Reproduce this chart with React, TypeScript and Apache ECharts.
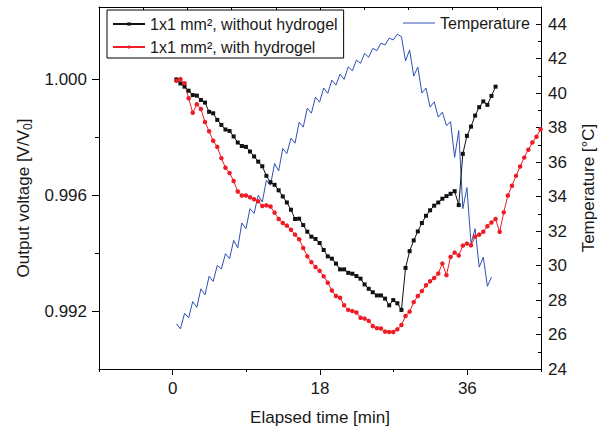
import React, { useEffect, useRef } from "react";
import * as echarts from "echarts";

const FONT = '"Liberation Sans", Arial, Helvetica, sans-serif';

// sampling grid of the measurements (minutes)
const timeStart = 0.45;
const timeStep = 0.5;

const seriesNames = ["1x1 mm², without hydrogel", "1x1 mm², with hydrogel", "Temperature"];

// Output voltage [V/V0], 1x1 mm², without hydrogel
const withoutHydrogel = [
  1.0, 0.99986, 0.99975, 0.99961, 0.99946, 0.99944, 0.99929, 0.9992, 0.99888, 0.99883,
  0.9986, 0.99843, 0.99827, 0.99822, 0.99803, 0.99782, 0.9977, 0.99767, 0.99751, 0.99734,
  0.99716, 0.997, 0.99667, 0.99645, 0.99636, 0.99617, 0.99596, 0.99575, 0.9955, 0.99518,
  0.99519, 0.99497, 0.99474, 0.99457, 0.99449, 0.99435, 0.99411, 0.99389, 0.99381, 0.99364,
  0.99344, 0.99344, 0.99332, 0.99329, 0.99321, 0.99312, 0.99292, 0.99277, 0.99265, 0.99254,
  0.99254, 0.99243, 0.9922, 0.99238, 0.99227, 0.99204, 0.99349, 0.99407, 0.99444, 0.99475,
  0.99504, 0.99529, 0.99548, 0.99564, 0.99575, 0.99588, 0.99597, 0.99605, 0.99614, 0.99566,
  0.99743, 0.99805, 0.99837, 0.99875, 0.99904, 0.99924, 0.99912, 0.99943, 0.99975,
];

// Output voltage [V/V0], 1x1 mm², with hydrogel
const withHydrogel = [
  0.99995, 1.00001, 0.99987, 0.99935, 0.99885, 0.99914, 0.99898, 0.99853, 0.99821, 0.99788,
  0.99767, 0.99728, 0.99695, 0.99677, 0.99649, 0.99613, 0.99599, 0.99599, 0.99593, 0.99586,
  0.99579, 0.99563, 0.99565, 0.99561, 0.9954, 0.99518, 0.99504, 0.99495, 0.99481, 0.99464,
  0.99448, 0.99418, 0.99389, 0.99369, 0.99352, 0.99339, 0.9932, 0.99298, 0.99271, 0.99252,
  0.99246, 0.9922, 0.99204, 0.992, 0.99195, 0.99177, 0.99174, 0.99166, 0.99148, 0.99141,
  0.9914, 0.99129, 0.99128, 0.99128, 0.99137, 0.99152, 0.99183, 0.99198, 0.99231, 0.99252,
  0.99269, 0.99289, 0.99303, 0.99314, 0.9933, 0.99364, 0.99324, 0.99387, 0.99402, 0.99392,
  0.99426, 0.99433, 0.99427, 0.99457, 0.99464, 0.99474, 0.99493, 0.99506, 0.99518, 0.99474,
  0.99541, 0.99599, 0.99633, 0.99667, 0.99699, 0.9973, 0.99757, 0.99782, 0.99802, 0.99828,
];

// Temperature [°C]
const temperature = [
  26.62, 26.33, 27.23, 26.97, 27.91, 27.58, 28.65, 28.3, 29.38, 29.08,
  30.01, 29.81, 30.69, 30.4, 31.46, 31.03, 32.47, 32.14, 33.3, 33.03,
  34.08, 33.69, 34.95, 34.66, 35.92, 35.49, 36.79, 36.5, 37.39, 37.1,
  38.32, 38.03, 39.13, 38.84, 39.77, 39.48, 40.3, 39.99, 40.76, 40.47,
  41.11, 40.8, 41.53, 41.3, 41.92, 41.73, 42.31, 42.08, 42.6, 42.47,
  42.9, 42.8, 43.19, 43.09, 43.42, 43.28, 41.87, 42.51, 40.99, 41.52,
  40.01, 40.3, 39.19, 39.5, 38.61, 38.9, 38.12, 38.34, 36.28, 37.83,
  33.3, 34.52, 31.27, 32.14, 29.91, 30.49, 28.8, 29.33,
];

// axis ticks
const xMajorTicks = [0, 18, 36];
const xMinorTicks = [-9, 9, 27, 45];
const leftMajorTicks = [0.992, 0.996, 1.0];
const leftMinorTicks = [0.994, 0.998];
const rightMajorTicks = [24, 26, 28, 30, 32, 34, 36, 38, 40, 42, 44];
const rightMinorTicks = [25, 27, 29, 31, 33, 35, 37, 39, 41, 43];

const toPairs = (vals: number[]) => vals.map((v, i) => [timeStart + i * timeStep, v]);

const AX = "#000";
const TXT = "#1a1a1a";
const BLACK = "#111111";
const RED = "#ee1c24";
const BLUE = "#3050b4";

export default function App() {
  const ref = useRef<HTMLDivElement>(null);
  useEffect(() => {
    if (!ref.current) return;
    const chart = echarts.init(ref.current, null, { renderer: "svg" });
    const noSplit = { show: false };
    const line = { show: true, onZero: false, lineStyle: { color: AX, width: 1 } };
    const hiddenLine = { show: false, onZero: false };
    chart.setOption({
      animation: false,
      backgroundColor: "#fff",
      textStyle: { fontFamily: FONT },
      grid: { left: 99, top: 7, width: 446, height: 362, containLabel: false },
      legend: [
        {
          data: [seriesNames[0], seriesNames[1]],
          orient: "vertical",
          left: 107,
          top: 10,
          padding: [6, 6, 3, 5],
          borderColor: "#000",
          borderWidth: 1,
          itemWidth: 32,
          itemHeight: 4,
          itemGap: 7,
          textStyle: { fontFamily: FONT, fontSize: 16, color: TXT, lineHeight: 16 },
        },
        {
          data: [{ name: seriesNames[2], icon: "rect" }],
          left: 403,
          top: 15,
          padding: 0,
          itemWidth: 32,
          itemHeight: 1,
          textStyle: { fontFamily: FONT, fontSize: 16, color: TXT, lineHeight: 16 },
        },
      ],
      xAxis: [
        {
          type: "value",
          position: "bottom",
          min: -9,
          max: 45,
          axisLine: line,
          axisTick: { show: true, customValues: xMajorTicks, length: 6, lineStyle: { color: AX } },
          axisLabel: {
            customValues: xMajorTicks,
            fontSize: 17,
            color: TXT,
            fontFamily: FONT,
            margin: 11,
          },
          splitLine: noSplit,
          name: "Elapsed time [min]",
          nameLocation: "middle",
          nameGap: 40,
          nameTextStyle: { fontSize: 17, color: TXT, fontFamily: FONT },
        },
        {
          type: "value",
          position: "bottom",
          min: -9,
          max: 45,
          axisLine: hiddenLine,
          axisTick: { show: true, customValues: xMinorTicks, length: 3, lineStyle: { color: AX } },
          axisLabel: { show: false },
          splitLine: noSplit,
        },
        {
          type: "value",
          position: "top",
          min: 0,
          max: 10,
          interval: 1,
          axisLine: line,
          axisTick: { show: true, inside: true, length: 3, lineStyle: { color: AX } },
          axisLabel: { show: false },
          splitLine: noSplit,
        },
      ],
      yAxis: [
        {
          type: "value",
          position: "left",
          min: 0.99,
          max: 1.0025,
          axisLine: line,
          axisTick: { show: true, customValues: leftMajorTicks, length: 7, lineStyle: { color: AX } },
          axisLabel: {
            customValues: leftMajorTicks,
            formatter: (v: number) => v.toFixed(3),
            fontSize: 17,
            color: TXT,
            fontFamily: FONT,
            margin: 12,
          },
          splitLine: noSplit,
          name: "{n|Output voltage [V/V}{s|0}{n|]}",
          nameLocation: "middle",
          nameRotate: 90,
          nameGap: 64,
          nameTextStyle: {
            fontSize: 17,
            color: TXT,
            fontFamily: FONT,
            padding: [0, 20, 0, 0],
            rich: {
              n: { fontSize: 17, color: TXT, fontFamily: FONT, lineHeight: 20 },
              s: { fontSize: 12, color: TXT, fontFamily: FONT, lineHeight: 20, verticalAlign: "bottom", padding: [8, 0, 0, 0] },
            },
          },
        },
        {
          type: "value",
          position: "left",
          min: 0.99,
          max: 1.0025,
          axisLine: hiddenLine,
          axisTick: { show: true, customValues: leftMinorTicks, length: 4, lineStyle: { color: AX } },
          axisLabel: { show: false },
          splitLine: noSplit,
        },
        {
          type: "value",
          position: "right",
          min: 24,
          max: 45,
          axisLine: line,
          axisTick: { show: true, inside: true, customValues: rightMajorTicks, length: 5, lineStyle: { color: AX } },
          axisLabel: {
            customValues: rightMajorTicks,
            fontSize: 17,
            color: TXT,
            fontFamily: FONT,
            margin: 7,
          },
          splitLine: noSplit,
          name: "Temperature [°C]",
          nameLocation: "middle",
          nameRotate: 90,
          nameGap: 39,
          nameTextStyle: { fontSize: 17, color: TXT, fontFamily: FONT },
        },
        {
          type: "value",
          position: "right",
          min: 24,
          max: 45,
          axisLine: hiddenLine,
          axisTick: { show: true, inside: true, customValues: rightMinorTicks, length: 3, lineStyle: { color: AX } },
          axisLabel: { show: false },
          splitLine: noSplit,
        },
      ],
      series: [
        {
          name: seriesNames[0],
          type: "line",
          xAxisIndex: 0,
          yAxisIndex: 0,
          data: toPairs(withoutHydrogel),
          symbol: "rect",
          symbolSize: 4,
          showSymbol: true,
          color: BLACK,
          lineStyle: { color: BLACK, width: 1 },
          itemStyle: { color: BLACK },
          z: 3,
        },
        {
          name: seriesNames[1],
          type: "line",
          xAxisIndex: 0,
          yAxisIndex: 0,
          data: toPairs(withHydrogel),
          symbol: "circle",
          symbolSize: 4.5,
          showSymbol: true,
          color: RED,
          lineStyle: { color: RED, width: 1 },
          itemStyle: { color: RED },
          z: 3,
        },
        {
          name: seriesNames[2],
          type: "line",
          xAxisIndex: 0,
          yAxisIndex: 2,
          data: toPairs(temperature),
          symbol: "none",
          showSymbol: false,
          color: BLUE,
          lineStyle: { color: BLUE, width: 1 },
          itemStyle: { color: BLUE },
          z: 2,
        },
      ],
    });
    return () => chart.dispose();
  }, []);
  return <div ref={ref} style={{ width: 605, height: 432, position: "absolute", left: 0, top: 0 }} />;
}
